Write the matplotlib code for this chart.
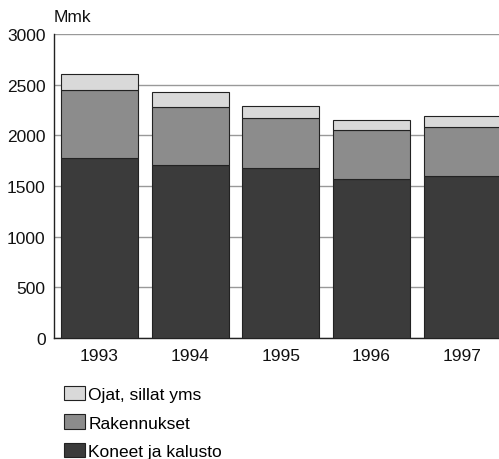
import matplotlib
matplotlib.use("Agg")
import matplotlib.pyplot as plt
import numpy as np

years = ["1993", "1994", "1995", "1996", "1997"]
koneet = [1777, 1709, 1673, 1566, 1601]
rakennukset = [674, 575, 497, 483, 484]
ojat = [154, 144, 124, 105, 104]
labels = ["Koneet ja kalusto", "Rakennukset", "Ojat, sillat yms"]
colors = ["#3b3b3b", "#8c8c8c", "#d9d9d9"]

plt.rcParams['font.family'] = ['Liberation Sans Narrow', 'Liberation Sans', 'DejaVu Sans']

fig = plt.figure(figsize=(4.99, 4.60), dpi=100)
W, H = 499, 460
left, right, top, bottom = 54, 507.5, 35, 339
ax = fig.add_axes([left / W, 1 - bottom / H, (right - left) / W, (bottom - top) / H])

x = np.arange(len(years))
bw = 0.85
series = [koneet, rakennukset, ojat]
base = np.zeros(len(years))
handles = []
for vals, lab, c in zip(series, labels, colors):
    b = ax.bar(x, vals, bw, bottom=base, color=c, edgecolor="#222222", linewidth=0.8,
               label=lab, zorder=3)
    handles.append(b)
    base += np.array(vals)

ax.set_xlim(-0.5, len(years) - 0.5)
ax.set_ylim(0, 3000)
ax.set_yticks([0, 500, 1000, 1500, 2000, 2500, 3000])
ax.yaxis.grid(True, color="#999999", linewidth=1.0, zorder=0)
ax.set_axisbelow(True)
ax.set_xticks(x)
ax.set_xticklabels(years)
ax.tick_params(axis="both", labelsize=12.5, length=0, colors="#111111", pad=7)
ax.tick_params(axis="y", pad=6)
for s in ["top", "right"]:
    ax.spines[s].set_visible(False)
ax.spines["left"].set_color("#222222")
ax.spines["bottom"].set_color("#222222")
ax.spines["left"].set_linewidth(1.0)
ax.spines["bottom"].set_linewidth(1.0)

fig.text(54 / W, 1 - 18 / H, "Mmk", fontsize=12.5, va="center", ha="left", color="#111111")

leg = fig.legend(handles[::-1], labels[::-1], loc="upper left",
                 bbox_to_anchor=(64 / W, 1 - 387 / H), frameon=False, fontsize=12.5,
                 handlelength=1.2, handleheight=0.9, handletextpad=0.2,
                 labelspacing=0.7, borderpad=0, borderaxespad=0)

fig.savefig("out.png", dpi=100)
